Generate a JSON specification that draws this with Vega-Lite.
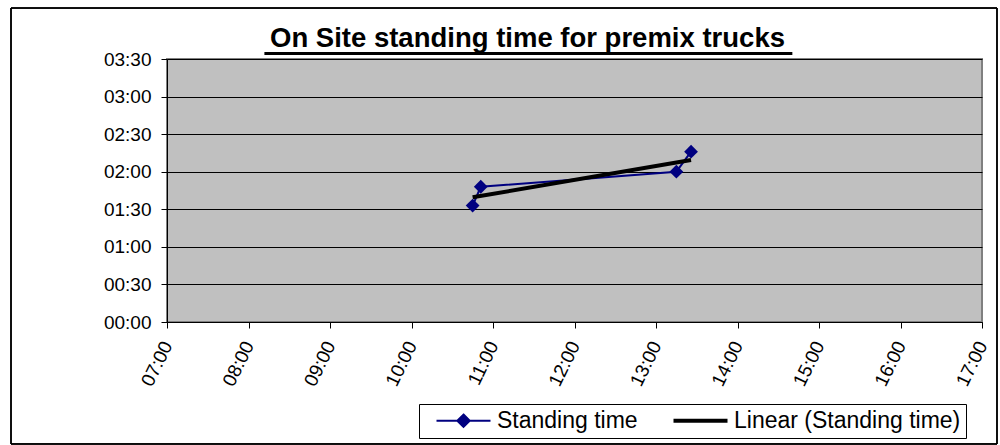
{
  "$schema": "https://vega.github.io/schema/vega-lite/v6.json",
  "autosize": {"type": "none"},
  "width": 815,
  "height": 263,
  "padding": {"left": 167, "top": 59, "right": 18, "bottom": 123},
  "background": "white",
  "config": {
    "font": "Liberation Sans",
    "view": {"fill": "#c0c0c0", "stroke": "#808080", "strokeWidth": 2}
  },
  "title": {
    "text": "On Site standing time for premix trucks",
    "font": "Liberation Sans",
    "fontSize": 27.5,
    "fontWeight": "bold",
    "color": "black",
    "anchor": "middle",
    "dx": -47,
    "offset": -45
  },
  "data": {
    "values": [
      {"time": 10.75, "standing": 93},
      {"time": 10.85, "standing": 108},
      {"time": 13.25, "standing": 120},
      {"time": 13.43, "standing": 136}
    ]
  },
  "encoding": {
    "x": {
      "field": "time",
      "type": "quantitative",
      "scale": {"domain": [7, 17], "nice": false, "zero": false},
      "axis": {
        "title": null,
        "values": [7, 8, 9, 10, 11, 12, 13, 14, 15, 16, 17],
        "labelExpr": "(datum.value < 10 ? '0' : '') + datum.value + ':00'",
        "labelAngle": -64,
        "labelFontSize": 19,
        "labelColor": "black",
        "labelPadding": 14,
        "grid": false,
        "domainColor": "black",
        "tickColor": "black",
        "tickSize": 6,
        "labelFlush": false,
        "labelOverlap": false
      }
    },
    "y": {
      "field": "standing",
      "type": "quantitative",
      "scale": {"domain": [0, 210], "nice": false},
      "axis": {
        "title": null,
        "values": [0, 30, 60, 90, 120, 150, 180, 210],
        "labelExpr": "'0' + floor(datum.value / 60) + ':' + (datum.value % 60 == 0 ? '00' : datum.value % 60)",
        "labelFontSize": 19,
        "labelColor": "black",
        "labelPadding": 10,
        "grid": true,
        "gridColor": "black",
        "gridOpacity": 1,
        "gridWidth": 1,
        "domainColor": "black",
        "tickColor": "black",
        "tickSize": 6,
        "labelFlush": false,
        "labelOverlap": false
      }
    }
  },
  "layer": [
    {
      "mark": {"type": "rect", "fill": null, "fillOpacity": 0, "stroke": "black", "strokeWidth": 1, "clip": false},
      "encoding": {
        "x": {"datum": 5.086},
        "x2": {"datum": 17.184},
        "y": {"datum": 250.7},
        "y2": {"datum": -97.4}
      }
    },
    {
      "mark": {"type": "rule", "strokeWidth": 3, "color": "black", "clip": false},
      "encoding": {
        "x": {"datum": 8.2},
        "x2": {"datum": 14.67},
        "y": {"datum": 214.4}
      }
    },
    {
      "mark": {"type": "line", "strokeWidth": 2},
      "encoding": {
        "color": {
          "datum": "Standing time",
          "type": "nominal",
          "scale": {"domain": ["Standing time", "Linear (Standing time)"], "range": ["#000080", "#000000"]},
          "legend": {
            "title": null,
            "orient": "none",
            "legendX": 252,
            "legendY": 345,
            "direction": "horizontal",
            "strokeColor": "black",
            "fillColor": "white",
            "padding": 5,
            "labelFontSize": 23,
            "labelColor": "black",
            "labelFont": "Liberation Sans",
            "symbolSize": 2916,
            "symbolOffset": 28,
            "symbolStrokeWidth": 2,
            "columnPadding": 23,
            "labelOffset": 22,
            "labelLimit": 400,
            "encode": {
              "symbols": {
                "update": {
                  "shape": {"signal": "datum.value == 'Standing time' ? 'M-1,0H1M0,-0.23L0.23,0L0,0.23L-0.23,0Z' : 'stroke'"},
                  "size": {"value": 2916},
                  "strokeWidth": {"signal": "datum.value == 'Standing time' ? 2 : 4"},
                  "stroke": {"signal": "datum.value == 'Standing time' ? '#000080' : '#000000'"},
                  "fill": {"signal": "datum.value == 'Standing time' ? '#000080' : 'transparent'"},
                  "opacity": {"value": 1}
                }
              }
            }
          }
        }
      }
    },
    {
      "mark": {"type": "point", "shape": "diamond", "filled": true, "size": 190, "opacity": 1},
      "encoding": {
        "color": {"datum": "Standing time", "type": "nominal"}
      }
    },
    {
      "transform": [{"regression": "standing", "on": "time"}],
      "mark": {"type": "line", "strokeWidth": 4},
      "encoding": {
        "color": {"datum": "Linear (Standing time)", "type": "nominal"}
      }
    }
  ]
}
